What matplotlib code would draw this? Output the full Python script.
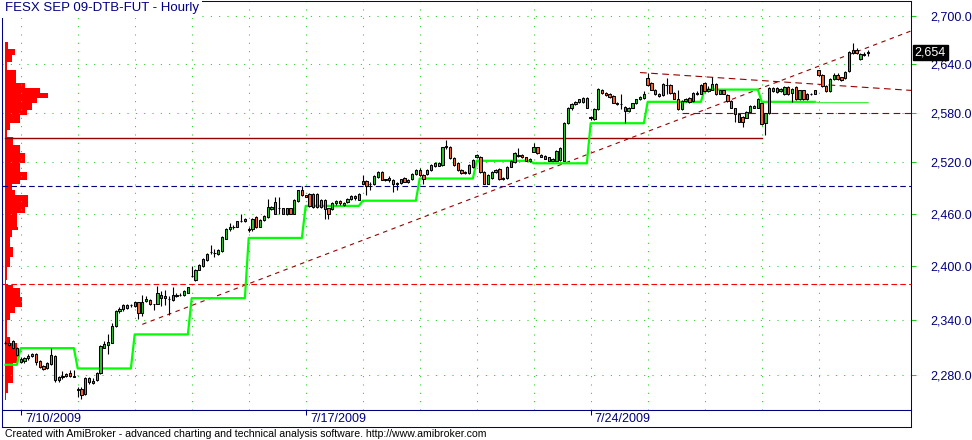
import numpy as np
import matplotlib
matplotlib.use('Agg')
from matplotlib import pyplot as plt, ticker, transforms

plt.rcParams['font.family'] = ['Liberation Sans', 'DejaVu Sans']

TITLE = "FESX SEP 09-DTB-FUT - Hourly"
FOOTER = ("Created with AmiBroker - advanced charting and technical analysis software. "
          "http://www.amibroker.com")

# sessions (15 hourly bars each), preceded by the last 4 bars of 7/9
session_dates = ['7/10/2009', '7/13/2009', '7/14/2009', '7/15/2009', '7/16/2009',
                 '7/17/2009', '7/20/2009', '7/21/2009', '7/22/2009', '7/23/2009',
                 '7/24/2009', '7/27/2009', '7/28/2009', '7/29/2009', '7/30/2009']
PRE_BARS = 4
BARS_PER_SESSION = 15

opens = [2315, 2315, 2317, 2309, 2294, 2295, 2298, 2300, 2303, 2295, 2290, 2287, 2292, 2301, 2275,
         2278, 2279, 2282, 2278, 2264, 2265, 2260, 2277, 2271, 2275, 2282, 2309, 2312, 2315, 2333,
         2350, 2352, 2353, 2356, 2355, 2360, 2347, 2361, 2362, 2358, 2358, 2364, 2364, 2363, 2362,
         2366, 2367, 2367, 2370, 2389, 2384, 2396, 2400, 2407, 2416, 2415, 2414, 2417, 2431, 2442,
         2444, 2444, 2452, 2451, 2442, 2442, 2456, 2445, 2453, 2456, 2465, 2474, 2467, 2467, 2459,
         2467, 2460, 2475, 2488, 2482, 2483, 2468, 2483, 2468, 2476, 2467, 2465, 2472, 2475, 2470,
         2473, 2477, 2481, 2476, 2498, 2498, 2495, 2494, 2503, 2509, 2500, 2499, 2499, 2494, 2496,
         2502, 2497, 2500, 2506, 2511, 2505, 2506, 2511, 2516, 2519, 2517, 2540, 2539, 2525, 2519,
         2511, 2507, 2507, 2515, 2526, 2527, 2509, 2495, 2502, 2509, 2512, 2500, 2502, 2515, 2520,
         2529, 2529, 2526, 2522, 2533, 2538, 2529, 2528, 2526, 2522, 2522, 2523, 2522, 2567, 2586,
         2590, 2593, 2593, 2598, 2574, 2572, 2584, 2608, 2604, 2603, 2600, 2592, 2590, 2587, 2582,
         2586, 2591, 2596, 2598, 2622, 2616, 2608, 2603, 2601, 2614, 2614, 2604, 2596, 2584, 2594,
         2598, 2594, 2602, 2603, 2616, 2606, 2608, 2615, 2603, 2607, 2601, 2594, 2586, 2578, 2575,
         2573, 2581, 2588, 2586, 2591, 2567, 2579, 2610, 2610, 2606, 2602, 2611, 2604, 2611, 2596,
         2607, 2596, 2603, 2603, 2632, 2626, 2613, 2606, 2621, 2626, 2623, 2622, 2631, 2657, 2657,
         2646, 2651, 2653]
highs = [2317, 2318, 2318, 2310, 2299, 2299, 2303, 2304, 2304, 2296, 2291, 2294, 2309, 2302, 2279,
         2284, 2282, 2285, 2285, 2267, 2267, 2278, 2278, 2277, 2283, 2312, 2317, 2324, 2336, 2351,
         2354, 2357, 2358, 2357, 2360, 2360, 2368, 2366, 2363, 2358, 2378, 2372, 2373, 2366, 2376,
         2370, 2370, 2373, 2376, 2400, 2397, 2402, 2409, 2415, 2424, 2419, 2419, 2434, 2443, 2449,
         2447, 2452, 2460, 2455, 2445, 2455, 2457, 2454, 2458, 2477, 2469, 2479, 2479, 2467, 2467,
         2467, 2477, 2488, 2492, 2482, 2484, 2484, 2484, 2477, 2477, 2467, 2473, 2476, 2476, 2473,
         2478, 2482, 2482, 2484, 2505, 2499, 2497, 2505, 2510, 2510, 2501, 2504, 2500, 2497, 2501,
         2503, 2500, 2507, 2512, 2514, 2506, 2512, 2518, 2520, 2520, 2539, 2547, 2540, 2526, 2520,
         2512, 2510, 2518, 2524, 2530, 2528, 2510, 2506, 2510, 2512, 2513, 2503, 2516, 2523, 2532,
         2537, 2530, 2526, 2525, 2543, 2539, 2530, 2529, 2527, 2525, 2535, 2538, 2568, 2587, 2591,
         2594, 2597, 2599, 2599, 2576, 2585, 2610, 2609, 2605, 2604, 2601, 2593, 2602, 2588, 2587,
         2591, 2597, 2600, 2606, 2629, 2617, 2609, 2604, 2616, 2622, 2615, 2605, 2608, 2595, 2598,
         2599, 2605, 2606, 2615, 2617, 2612, 2623, 2616, 2608, 2608, 2602, 2595, 2586, 2578, 2576,
         2582, 2589, 2589, 2598, 2592, 2580, 2611, 2611, 2611, 2610, 2612, 2612, 2610, 2612, 2608,
         2608, 2604, 2604, 2608, 2632, 2627, 2614, 2622, 2628, 2628, 2624, 2631, 2656, 2666, 2659,
         2653, 2654, 2657]
lows = [2313, 2310, 2308, 2300, 2293, 2293, 2296, 2299, 2291, 2288, 2285, 2286, 2291, 2272, 2273,
        2276, 2278, 2278, 2278, 2256, 2254, 2259, 2270, 2270, 2274, 2281, 2309, 2303, 2315, 2332,
        2348, 2350, 2352, 2354, 2354, 2341, 2344, 2360, 2356, 2351, 2357, 2355, 2356, 2345, 2361,
        2365, 2366, 2366, 2370, 2388, 2383, 2395, 2399, 2406, 2414, 2410, 2413, 2416, 2431, 2440,
        2442, 2444, 2450, 2450, 2439, 2440, 2443, 2444, 2452, 2455, 2464, 2459, 2460, 2459, 2458,
        2459, 2459, 2474, 2481, 2479, 2468, 2467, 2467, 2467, 2454, 2454, 2464, 2470, 2470, 2469,
        2472, 2476, 2476, 2476, 2495, 2482, 2488, 2493, 2502, 2499, 2498, 2497, 2485, 2488, 2495,
        2497, 2496, 2499, 2505, 2504, 2495, 2505, 2510, 2515, 2516, 2516, 2536, 2524, 2516, 2510,
        2506, 2506, 2506, 2514, 2525, 2508, 2494, 2494, 2501, 2508, 2499, 2499, 2501, 2515, 2519,
        2526, 2525, 2522, 2521, 2532, 2530, 2526, 2524, 2522, 2522, 2522, 2522, 2522, 2566, 2583,
        2589, 2592, 2592, 2585, 2571, 2571, 2583, 2603, 2600, 2598, 2591, 2589, 2584, 2567, 2581,
        2585, 2590, 2595, 2597, 2613, 2607, 2601, 2599, 2600, 2602, 2603, 2596, 2583, 2583, 2593,
        2592, 2593, 2601, 2602, 2605, 2605, 2607, 2601, 2602, 2602, 2593, 2585, 2569, 2568, 2562,
        2573, 2581, 2585, 2585, 2565, 2553, 2578, 2605, 2604, 2605, 2601, 2601, 2593, 2595, 2595,
        2595, 2595, 2601, 2602, 2625, 2611, 2605, 2605, 2620, 2620, 2619, 2621, 2630, 2652, 2652,
        2645, 2650, 2650]
closes = [2315, 2312, 2309, 2302, 2297, 2298, 2300, 2303, 2294, 2289, 2286, 2293, 2302, 2275, 2278,
          2279, 2281, 2279, 2279, 2265, 2259, 2277, 2272, 2274, 2282, 2311, 2313, 2316, 2333, 2350,
          2352, 2356, 2356, 2356, 2360, 2347, 2360, 2363, 2357, 2358, 2370, 2367, 2366, 2363, 2367,
          2368, 2368, 2372, 2376, 2389, 2396, 2401, 2408, 2414, 2416, 2415, 2418, 2433, 2442, 2444,
          2444, 2451, 2452, 2454, 2441, 2454, 2445, 2453, 2457, 2468, 2468, 2460, 2467, 2460, 2467,
          2460, 2476, 2487, 2482, 2479, 2469, 2483, 2468, 2476, 2465, 2459, 2472, 2475, 2472, 2472,
          2477, 2481, 2478, 2483, 2495, 2492, 2495, 2504, 2509, 2499, 2499, 2502, 2494, 2496, 2500,
          2497, 2499, 2506, 2511, 2505, 2501, 2511, 2517, 2519, 2516, 2538, 2539, 2525, 2517, 2511,
          2507, 2509, 2517, 2523, 2529, 2509, 2495, 2505, 2509, 2511, 2500, 2502, 2515, 2522, 2531,
          2528, 2526, 2522, 2524, 2538, 2531, 2527, 2524, 2522, 2524, 2534, 2537, 2567, 2586, 2590,
          2593, 2596, 2598, 2586, 2573, 2584, 2609, 2604, 2601, 2599, 2592, 2590, 2590, 2582, 2586,
          2591, 2596, 2599, 2602, 2614, 2608, 2602, 2600, 2615, 2614, 2604, 2597, 2584, 2594, 2597,
          2593, 2604, 2604, 2614, 2606, 2609, 2615, 2602, 2607, 2603, 2594, 2586, 2578, 2569, 2569,
          2581, 2588, 2586, 2597, 2566, 2579, 2610, 2606, 2605, 2609, 2611, 2602, 2609, 2596, 2607,
          2596, 2603, 2602, 2607, 2626, 2612, 2606, 2621, 2626, 2621, 2620, 2630, 2655, 2653, 2653,
          2652, 2652, 2654]

# daily trailing stop (green step line): level and number of bars it holds
stop_levels = [2291, 2309, 2287, 2324, 2364, 2432, 2469, 2475, 2501, 2522, 2519, 2567,
               2593, 2608, 2593, 2592]
stop_lengths = [4, 15, 15, 15, 15, 15, 15, 15, 15, 15, 15, 15, 15, 15, 15, 14]

# volume-at-price profile: price bins and volume
profile_lo = [2658, 2651, 2642, 2632, 2616, 2610, 2604, 2598, 2592, 2583, 2577, 2567, 2559, 2550,
              2541, 2531, 2519, 2509, 2499, 2494, 2488, 2482, 2468, 2461, 2445, 2441, 2433, 2422,
              2410, 2399, 2384, 2379, 2375, 2365, 2354, 2348, 2340, 2321, 2315, 2293, 2282, 2271,
              2261, 2253]
profile_hi = [2667, 2658, 2651, 2642, 2632, 2616, 2610, 2604, 2598, 2592, 2583, 2577, 2567, 2559,
              2550, 2541, 2531, 2519, 2509, 2499, 2494, 2488, 2482, 2468, 2461, 2445, 2441, 2433,
              2422, 2410, 2399, 2384, 2379, 2375, 2365, 2354, 2348, 2340, 2321, 2315, 2293, 2282,
              2271, 2261]
profile_vol = [3, 10, 7, 2, 11, 20, 35, 43, 32, 27, 22, 15, 5, 2,
               8, 15, 20, 15, 22, 15, 7, 10, 23, 20, 12, 13, 7, 5,
               8, 5, 2, 1, 8, 15, 17, 10, 5, 2, 5, 12, 8, 8,
               3, 1]

# horizontal levels and trend lines
resistance = 2549
resistance_bars = [0, 199]
pivot_level = 2492
support_level = 2380
level_2580 = 2580
level_2580_start = 178
trend_up_bars = [36, 238.3]
trend_up_prices = [2335, 2681]
trend_down_bars = [167, 238.3]
trend_down_prices = [2629, 2607]

y_ticks = [2280, 2340, 2400, 2460, 2520, 2580, 2640, 2700]

NAVY = '#000080'
GRID = '#22cc22'
DARK_RED = '#990000'
UP = '#2cc42c'
DOWN = '#f5652e'

o = np.array(opens, dtype=float)
h = np.array(highs, dtype=float)
l = np.array(lows, dtype=float)
c = np.array(closes, dtype=float)
n = len(c)
x = np.arange(n)
stop = np.repeat(stop_levels, stop_lengths)
day_starts = [PRE_BARS + BARS_PER_SESSION * k for k in range(len(session_dates))]
X_MIN, X_MAX = -0.92, 238.3

fig = plt.figure(figsize=(9.72, 4.4), dpi=100)
ax = fig.add_axes([2 / 972, 30 / 440, 909 / 972, 409 / 440])
ax.set_yscale('log')

# volume profile, drawn first so candles sit on top
lo = np.array(profile_lo, dtype=float)
hi = np.array(profile_hi, dtype=float)
ax.barh(lo, np.array(profile_vol) / 3.8, height=hi - lo, left=-0.13, align='edge',
        color='#ff0000', linewidth=0, zorder=1)

ax.plot(resistance_bars, [resistance] * 2, color=DARK_RED, lw=1.0, zorder=2)
ax.axhline(pivot_level, color=NAVY, lw=0.8, ls=(0, (5, 3)), zorder=2)
ax.axhline(support_level, color='#ff0000', lw=0.8, ls=(0, (5, 3)), zorder=2)
ax.plot([level_2580_start, X_MAX], [level_2580] * 2, color=DARK_RED, lw=0.8,
        ls=(0, (6, 4)), zorder=2)
ax.plot(trend_up_bars, trend_up_prices, color=DARK_RED, lw=0.8, ls=(0, (4, 4)), zorder=2)
ax.plot(trend_down_bars, trend_down_prices, color=DARK_RED, lw=0.8, ls=(0, (6, 4)), zorder=2)

# trailing stop: last session drawn thin
last = day_starts[-1] - 1
ax.plot(x[:last + 1], stop[:last + 1], color='#00ff00', lw=1.6, zorder=2.5)
ax.plot(x[last:], stop[last:], color='#44ee44', lw=0.9, zorder=2.5)

# candles
up = c >= o
ax.vlines(x, l, h, color='black', lw=0.8, zorder=3)
ax.bar(x, np.abs(c - o), bottom=np.minimum(o, c), width=0.62,
       color=np.where(up, UP, DOWN), edgecolor='black', linewidth=0.75, zorder=4)

ax.set_xlim(X_MIN, X_MAX)
ax.set_ylim(2242.7, 2719.1)

ax.yaxis.tick_right()
ax.yaxis.set_major_locator(ticker.FixedLocator(y_ticks))
ax.yaxis.set_major_formatter(ticker.FuncFormatter(lambda v, p: f'{v:,.1f}'))
ax.yaxis.set_minor_locator(ticker.NullLocator())
ax.yaxis.set_minor_formatter(ticker.NullFormatter())
ax.tick_params(axis='y', which='major', color=GRID, labelcolor=NAVY, length=3.6,
               width=0.75, pad=10, labelsize=9)
ax.set_xticks(day_starts)
ax.tick_params(axis='x', length=0, labelbottom=False)
ax.grid(True, color=GRID, ls=(0, (1, 7)), lw=0.75)
for sp in ax.spines.values():
    sp.set_color(NAVY)
    sp.set_linewidth(0.75)

ax.text(0.003, 0.997, TITLE, transform=ax.transAxes, ha='left', va='top', fontsize=9.5,
        color=NAVY, zorder=6,
        bbox=dict(boxstyle='square,pad=0.25', facecolor='white', edgecolor='none'))

# last price tag
trans = transforms.blended_transform_factory(ax.transAxes, ax.transData)
ax.text(1.004, c[-1], f'{int(c[-1]):,}', transform=trans, ha='left', va='center',
        fontsize=9, color='white', clip_on=False, zorder=10,
        bbox=dict(boxstyle='square,pad=0.15', facecolor='black', edgecolor='black'))

# date strip
ax_d = fig.add_axes([2 / 972, 13 / 440, 909 / 972, 17 / 440])
ax_d.set_xlim(X_MIN, X_MAX)
ax_d.set_ylim(0, 1)
label_bars = day_starts[::5]
ax_d.set_xticks(label_bars)
ax_d.set_yticks([])
ax_d.tick_params(axis='x', top=True, bottom=False, direction='in', length=3.6, width=0.75,
                 color=NAVY, labeltop=False, labelbottom=False)
for b, d in zip(label_bars, session_dates[::5]):
    ax_d.annotate(d, (b, 0.45), xytext=(3, 0), textcoords='offset points', ha='left',
                  va='center', fontsize=9, color=NAVY)
for sp in ax_d.spines.values():
    sp.set_color(NAVY)
    sp.set_linewidth(0.75)

fig.text(5 / 972, 1 - 434 / 440, FOOTER, fontsize=7.6, va='center', ha='left', color='black')

fig.savefig('out.png', dpi=100, facecolor='white')
